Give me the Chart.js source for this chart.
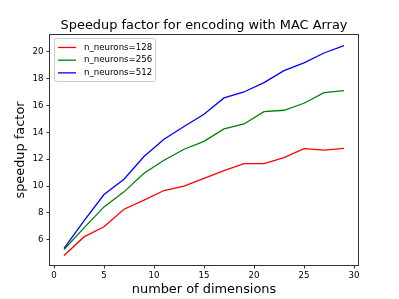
<!DOCTYPE html>
<html>
<head>
<meta charset="utf-8">
<script src="https://cdn.jsdelivr.net/npm/chart.js@4.4.0/dist/chart.umd.min.js"></script>
<style>
  html, body { margin: 0; padding: 0; background: #fff; }
  #wrap { width: 399px; height: 299px; }
</style>
</head>
<body>
<div id="wrap"><canvas id="speedup"></canvas></div>
<script>
// nombre de dimensions (axe x)
const dims = [1, 3, 5, 7, 9, 11, 13, 15, 17, 19, 21, 23, 25, 27, 29];

// facteurs d'accélération
const speedup128 = [4.84, 6.22, 6.97, 8.28, 8.95, 9.67, 9.99, 10.58, 11.15, 11.67, 11.67, 12.12, 12.79, 12.67, 12.81];
const speedup256 = [5.28, 6.89, 8.45, 9.57, 10.96, 11.92, 12.74, 13.33, 14.25, 14.62, 15.54, 15.64, 16.16, 16.95, 17.10];
const speedup512 = [5.36, 7.41, 9.37, 10.51, 12.20, 13.48, 14.43, 15.34, 16.56, 17.00, 17.70, 18.59, 19.16, 19.90, 20.45];

const seriesLabels = ['n_neurons=128', 'n_neurons=256', 'n_neurons=512'];

// graduations
const xTicks = [0, 5, 10, 15, 20, 25, 30];
const yTicks = [6, 8, 10, 12, 14, 16, 18, 20];

const FONT = 'DejaVu Sans';

function toPoints(values) {
    return values.map((v, i) => ({ x: dims[i], y: v }));
}

// cadre des axes (style matplotlib) + légende dans la zone du graphe
const frameAndLegend = {
    id: 'frameAndLegend',
    afterLayout(chart) {
        // titre centré sur la zone du graphe, comme matplotlib
        if (chart.titleBlock) {
            chart.titleBlock.left = chart.chartArea.left;
            chart.titleBlock.right = chart.chartArea.right;
        }
    },
    afterDraw(chart) {
        const ctx = chart.ctx;
        const a = chart.chartArea;
        ctx.save();
        ctx.strokeStyle = '#333';
        ctx.lineWidth = 1;
        ctx.strokeRect(Math.round(a.left) - 0.5, Math.round(a.top) - 0.5,
                       Math.round(a.right - a.left) + 1, Math.round(a.bottom - a.top) + 1);

        // légende
        const x0 = a.left + 4.5, y0 = a.top + 3.5;
        ctx.fillStyle = 'rgba(255,255,255,0.8)';
        ctx.strokeStyle = '#cccccc';
        ctx.beginPath();
        ctx.roundRect(x0, y0, 101, 43, 2);
        ctx.fill();
        ctx.stroke();
        ctx.font = '8.65px "' + FONT + '"';
        ctx.textBaseline = 'middle';
        chart.data.datasets.forEach((ds, i) => {
            const y = y0 + 9 + i * 12.7;
            ctx.strokeStyle = ds.borderColor;
            ctx.lineWidth = 1.3;
            ctx.beginPath();
            ctx.moveTo(x0 + 3.5, y);
            ctx.lineTo(x0 + 21.5, y);
            ctx.stroke();
            ctx.fillStyle = '#000';
            ctx.fillText(ds.label, x0 + 29.5, y);
        });
        ctx.restore();
    }
};

new Chart(document.getElementById('speedup').getContext('2d'), {
    type: 'line',
    data: {
        datasets: [
            { label: seriesLabels[0], data: toPoints(speedup128), borderColor: '#ff0000' },
            { label: seriesLabels[1], data: toPoints(speedup256), borderColor: '#008000' },
            { label: seriesLabels[2], data: toPoints(speedup512), borderColor: '#0000ff' }
        ]
    },
    options: {
        responsive: true,
        maintainAspectRatio: false,
        animation: false,
        devicePixelRatio: 1,
        elements: {
            line: { borderWidth: 1.3, tension: 0, fill: false },
            point: { radius: 0, hoverRadius: 0 }
        },
        layout: { padding: { left: 0, right: 41, top: 0, bottom: 0 } },
        plugins: {
            legend: { display: false },
            tooltip: { enabled: false },
            title: {
                display: true,
                text: 'Speedup factor for encoding with MAC Array',
                color: '#000',
                font: { family: FONT, size: 12.9, weight: 'normal' },
                padding: { top: 17.5, bottom: 2 }
            }
        },
        scales: {
            x: {
                type: 'linear',
                min: -0.4,
                max: 30.4,
                afterBuildTicks: s => { s.ticks = xTicks.map(v => ({ value: v })); },
                afterFit: s => { s.height = 34; },
                grid: { drawOnChartArea: false, drawTicks: true, tickLength: 3.5, color: '#333' },
                border: { display: false },
                ticks: { color: '#000', padding: 2, font: { family: FONT, size: 8.65 }, maxRotation: 0 },
                title: {
                    display: true,
                    text: 'number of dimensions',
                    color: '#000',
                    font: { family: FONT, size: 12.9 },
                    padding: { top: 0, bottom: 1.8 }
                }
            },
            y: {
                type: 'linear',
                min: 4.13,
                max: 21.24,
                afterBuildTicks: s => { s.ticks = yTicks.map(v => ({ value: v })); },
                afterFit: s => { s.width = 50; },
                grid: { drawOnChartArea: false, drawTicks: true, tickLength: 3.5, color: '#333' },
                border: { display: false },
                ticks: { color: '#000', padding: 3, font: { family: FONT, size: 8.65 } },
                title: {
                    display: true,
                    text: 'speedup factor',
                    color: '#000',
                    font: { family: FONT, size: 12.9 },
                    padding: { top: 13.4, bottom: 0 }
                }
            }
        }
    },
    plugins: [frameAndLegend]
});
</script>
</body>
</html>
